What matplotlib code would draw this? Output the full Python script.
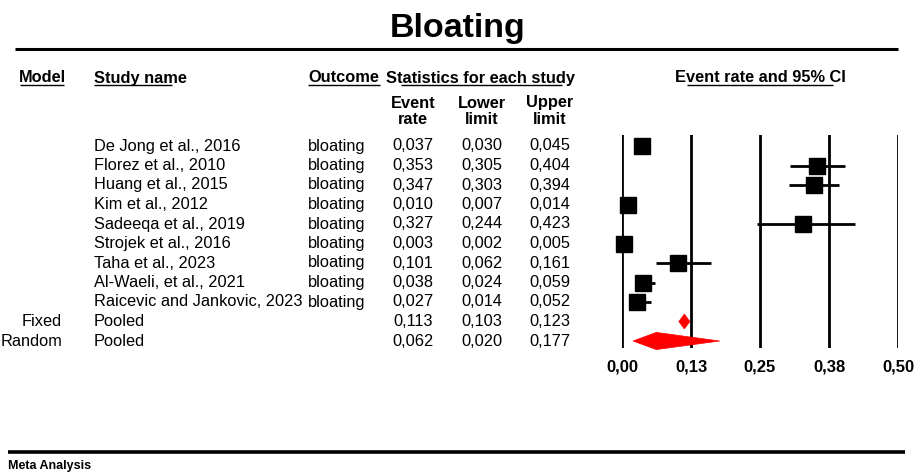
import matplotlib

matplotlib.use("Agg")
import matplotlib.pyplot as plt
from matplotlib.patches import Polygon

plt.rcParams["font.family"] = ["Liberation Sans", "DejaVu Sans"]

# study-level event rates with 95% CI
studies = [
    "De Jong et al., 2016",
    "Florez et al., 2010",
    "Huang et al., 2015",
    "Kim et al., 2012",
    "Sadeeqa et al., 2019",
    "Strojek et al., 2016",
    "Taha et al., 2023",
    "Al-Waeli, et al., 2021",
    "Raicevic and Jankovic, 2023",
]
outcome = "bloating"
rate = [0.037, 0.353, 0.347, 0.010, 0.327, 0.003, 0.101, 0.038, 0.027]
lower = [0.030, 0.305, 0.303, 0.007, 0.244, 0.002, 0.062, 0.024, 0.014]
upper = [0.045, 0.404, 0.394, 0.014, 0.423, 0.005, 0.161, 0.059, 0.052]

# pooled estimates
models = ["Fixed", "Random"]
pooled_rate = [0.113, 0.062]
pooled_lower = [0.103, 0.020]
pooled_upper = [0.123, 0.177]

xticks = [0.0, 0.125, 0.25, 0.375, 0.5]
xtick_labels = ["0,00", "0,13", "0,25", "0,38", "0,50"]

W, H = 917, 475
fig = plt.figure(figsize=(W / 100, H / 100), dpi=100)

# page layer in pixel coordinates for the table text and rules
page = fig.add_axes([0, 0, 1, 1])
page.set_xlim(0, W)
page.set_ylim(H, 0)
page.axis("off")

fs = 11.8
row0, dy = 146, 19.5


def fmt(v):
    return f"{v:.3f}".replace(".", ",")


page.text(458, 29, "Bloating", fontsize=24.5, fontweight="bold", ha="center", va="center")
page.plot([15, 898], [49, 49], color="black", lw=2.2, solid_capstyle="butt")

hy = 78
page.text(19, hy, "Model", fontsize=fs, fontweight="bold", va="center")
page.text(94, hy, "Study name", fontsize=fs, fontweight="bold", va="center")
page.text(308, hy, "Outcome", fontsize=fs, fontweight="bold", va="center")
page.text(386, hy, "Statistics for each study", fontsize=fs, fontweight="bold", va="center")
page.text(760, hy, "Event rate and 95% CI", fontsize=fs, fontweight="bold", ha="center", va="center")
for x0, x1 in [(20, 64), (94, 172), (308, 380), (401, 562), (687, 833)]:
    page.plot([x0, x1], [85, 85], color="black", lw=1.0, solid_capstyle="butt")

cols = [413, 482, 550]
for cx, (a, b) in zip(cols, [("Event", "rate"), ("Lower", "limit"), ("Upper", "limit")]):
    page.text(cx, 103, a, fontsize=fs, fontweight="bold", ha="center", va="center")
    page.text(cx, 120, b, fontsize=fs, fontweight="bold", ha="center", va="center")

for i, name in enumerate(studies):
    y = row0 + i * dy
    page.text(94, y, name, fontsize=fs, va="center")
    page.text(308, y, outcome, fontsize=fs, va="center")
    for cx, v in zip(cols, (rate[i], lower[i], upper[i])):
        page.text(cx, y, fmt(v), fontsize=fs, ha="center", va="center")

for j, m in enumerate(models):
    y = row0 + (len(studies) + j) * dy
    page.text(62, y, m, fontsize=fs, ha="right", va="center")
    page.text(94, y, "Pooled", fontsize=fs, va="center")
    for cx, v in zip(cols, (pooled_rate[j], pooled_lower[j], pooled_upper[j])):
        page.text(cx, y, fmt(v), fontsize=fs, ha="center", va="center")

page.plot([8, 905], [452, 452], color="black", lw=2.6, solid_capstyle="butt")
page.text(8, 466, "Meta Analysis", fontsize=9, fontweight="bold", va="center",
          family=["Liberation Sans Narrow", "Liberation Sans"])

# forest panel
x_left, x_right, y_top, y_bot = 622, 898, 135, 348
ax = fig.add_axes([x_left / W, 1 - y_bot / H, (x_right - x_left) / W, (y_bot - y_top) / H])
ax.set_xlim(0, 0.5)
n_rows = len(studies) + len(models)
ax.set_ylim(n_rows - 1 + 7 / dy, -11 / dy)
ax.patch.set_alpha(0)
for s in ax.spines.values():
    s.set_visible(False)
ax.set_yticks([])
ax.set_xticks(xticks)
ax.set_xticklabels(xtick_labels, fontsize=12, fontweight="bold")
ax.tick_params(axis="x", length=0, pad=8)
for t in xticks:
    ax.axvline(t, color="black", lw=2.0, zorder=1)

for i in range(len(studies)):
    ax.plot([lower[i], upper[i]], [i, i], color="black", lw=2.0, zorder=2,
            solid_capstyle="butt", clip_on=False)
    ax.plot(rate[i], i, marker="s", color="black", markersize=12, zorder=3,
            clip_on=False)

half_h = [0.38, 0.44]
for j in range(len(models)):
    y = len(studies) + j
    diamond = Polygon(
        [(pooled_lower[j], y), (pooled_rate[j], y - half_h[j]),
         (pooled_upper[j], y), (pooled_rate[j], y + half_h[j])],
        closed=True, facecolor="#ff0000", edgecolor="#ff0000", lw=0.5, zorder=3,
        clip_on=False,
    )
    ax.add_patch(diamond)

fig.savefig("out.png", dpi=100)
